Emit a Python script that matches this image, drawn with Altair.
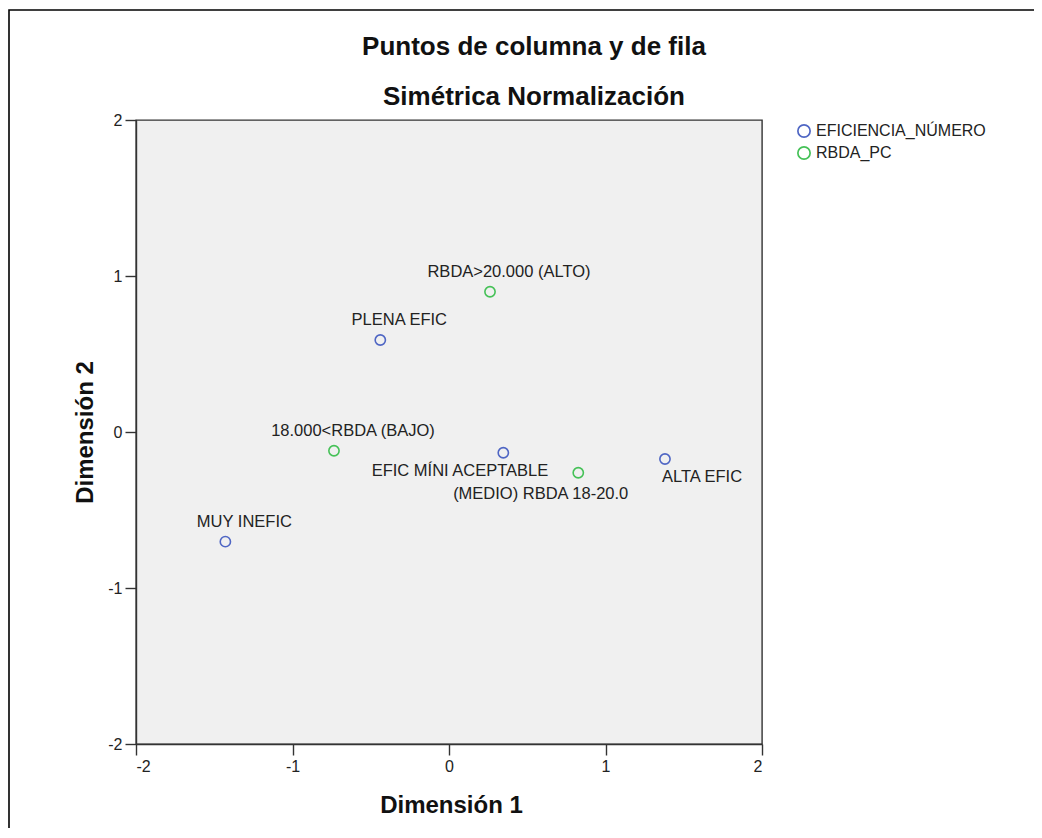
import altair as alt
import pandas as pd

# ---- data ----
labels = ["PLENA EFIC", "MUY INEFIC", "EFIC MÍNI ACEPTABLE", "ALTA EFIC",
          "RBDA>20.000 (ALTO)", "18.000<RBDA (BAJO)", "(MEDIO) RBDA 18-20.0"]
series = ["EFICIENCIA_NÚMERO"] * 4 + ["RBDA_PC"] * 3
dim1 = [-0.439, -1.429, 0.347, 1.380, 0.262, -0.735, 0.826]
dim2 = [0.590, -0.703, -0.133, -0.173, 0.899, -0.120, -0.261]

series_names = ["EFICIENCIA_NÚMERO", "RBDA_PC"]
series_colors = ["#4f66c4", "#45c157"]
ticks = [-2, -1, 0, 1, 2]

title_text = "Puntos de columna y de fila"
subtitle_text = "Simétrica Normalización"
x_title = "Dimensión 1"
y_title = "Dimensión 2"

df = pd.DataFrame({"label": labels, "series": series, "dim1": dim1, "dim2": dim2})

FONT = "Liberation Sans"
W, H = 626, 624

xs = alt.Scale(domain=[-2, 2], nice=False, zero=False)
ys = alt.Scale(domain=[-2, 2], nice=False, zero=False)

axis_common = dict(values=ticks, grid=False, tickSize=11, tickColor="#333333",
                   domainColor="#333333", domainWidth=1.4, tickWidth=1.4,
                   labelFont=FONT, labelFontSize=16, labelColor="#222222",
                   labelExpr="'' + datum.value",
                   titleFont=FONT, titleFontSize=24, titleFontWeight="bold",
                   titleColor="#111111", labelPadding=3)

base = alt.Chart(df)

points = base.mark_point(shape="circle", filled=False, size=105, strokeWidth=1.6, opacity=1).encode(
    x=alt.X("dim1:Q", scale=xs,
            axis=alt.Axis(title=x_title, titleX=W / 2 + 2, titleY=61, titleBaseline="middle",
                          **axis_common)),
    y=alt.Y("dim2:Q", scale=ys,
            axis=alt.Axis(title=y_title, titleX=-51, titleY=H / 2, titleAngle=270,
                          titleBaseline="middle", **axis_common)),
    color=alt.Color("series:N",
                    scale=alt.Scale(domain=series_names, range=series_colors),
                    legend=alt.Legend(title=None, orient="none", legendX=660, legendY=3,
                                      labelFont=FONT, labelFontSize=16, labelColor="#222222",
                                      labelLimit=400,
                                      symbolType="circle", symbolSize=150, symbolStrokeWidth=1.7,
                                      symbolFillColor="transparent", labelOffset=4,
                                      rowPadding=2, padding=0)),
)

above = ["PLENA EFIC", "MUY INEFIC", "RBDA>20.000 (ALTO)", "18.000<RBDA (BAJO)"]

def label_layer(names, align, dx, dy):
    return base.transform_filter(alt.FieldOneOfPredicate(field="label", oneOf=names)).mark_text(
        align=align, baseline="middle", dx=dx, dy=dy, font=FONT, fontSize=16.5, color="#222222"
    ).encode(x=alt.X("dim1:Q", scale=xs), y=alt.Y("dim2:Q", scale=ys), text="label:N")

lab_above = label_layer(above, "center", 19, -20)
lab_efic = label_layer(["EFIC MÍNI ACEPTABLE"], "right", 45, 18)
lab_medio = label_layer(["(MEDIO) RBDA 18-20.0"], "right", 50, 21)
lab_alta = label_layer(["ALTA EFIC"], "left", -3, 18)

def free_text(txt, x, y, size, weight="bold"):
    return alt.Chart(pd.DataFrame({"t": [txt]})).mark_text(
        align="center", baseline="middle", font=FONT, fontSize=size, fontWeight=weight,
        color="#111111"
    ).encode(text="t:N", x=alt.value(x), y=alt.value(y))

t1 = free_text(title_text, 398, -73, 26)
t2 = free_text(subtitle_text, 398, -23, 26)

frame = alt.Chart(pd.DataFrame({"f": [0]})).mark_rect(
    fill="transparent", stroke="#000000", strokeWidth=1.6
).encode(x=alt.value(-127), x2=alt.value(920), y=alt.value(-110), y2=alt.value(740))

chart = alt.layer(frame, points, lab_above, lab_efic, lab_medio, lab_alta, t1, t2).properties(
    width=W, height=H,
    autosize=alt.AutoSizeParams(type="none"),
    padding={"left": 128, "top": 112, "right": 272, "bottom": 84},
    background="#FFFFFF",
).configure_view(
    fill="#F0F0F0", stroke="#333333", strokeWidth=1.4
)

chart.save("out.html", embed_options={"renderer": "svg", "actions": False})
